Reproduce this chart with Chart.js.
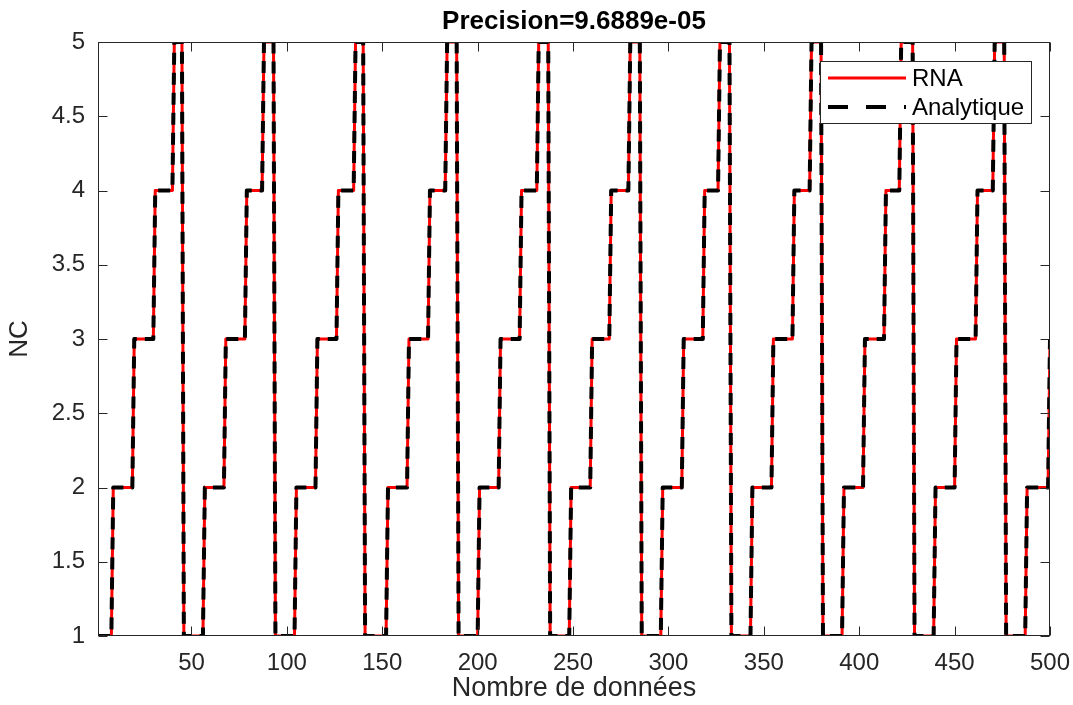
<!DOCTYPE html>
<html>
<head>
<meta charset="utf-8">
<script src="https://cdn.jsdelivr.net/npm/chart.js@4.4.1/dist/chart.umd.min.js"></script>
<style>
  html, body { margin: 0; padding: 0; background: #fff; }
  #wrap { width: 1073px; height: 705px; }
</style>
</head>
<body>
<div id="wrap"><canvas id="myChart"></canvas></div>
<script>
// last sample before each step, and the level reached right after it
var changeAt = [8, 19, 30, 40, 45, 56, 67, 78, 87, 93,
                104, 115, 126, 135, 140, 152, 163, 174, 183, 189,
                200, 211, 222, 231, 237, 248, 259, 269, 279, 285,
                296, 307, 318, 326, 332, 343, 354, 365, 374, 380,
                391, 402, 413, 421, 428, 439, 450, 461, 470, 476,
                487, 499];
var levelAfter = [2, 3, 4, 5, 1, 2, 3, 4, 5, 1,
                  2, 3, 4, 5, 1, 2, 3, 4, 5, 1,
                  2, 3, 4, 5, 1, 2, 3, 4, 5, 1,
                  2, 3, 4, 5, 1, 2, 3, 4, 5, 1,
                  2, 3, 4, 5, 1, 2, 3, 4, 5, 1,
                  2, 3];
var startLevel = 1;
var xFirst = 1, xLast = 500;
var xTicks = [50, 100, 150, 200, 250, 300, 350, 400, 450, 500];
var yTicks = [1, 1.5, 2, 2.5, 3, 3.5, 4, 4.5, 5];

function stepPoints() {
    var pts = [{x: xFirst, y: startLevel}];
    var cur = startLevel;
    for (var i = 0; i < changeAt.length; i++) {
        pts.push({x: changeAt[i], y: cur});
        cur = levelAfter[i];
        pts.push({x: changeAt[i] + 1, y: cur});
    }
    pts.push({x: xLast, y: cur});
    return pts;
}

var axisColor = '#262626';
Chart.defaults.font.family = "'Liberation Sans', Arial, Helvetica, sans-serif";

var matlabBox = {
    id: 'matlabBox',
    afterDatasetsDraw: function (chart) {
        var c = chart.ctx, a = chart.chartArea;
        var xs = chart.scales.x, ys = chart.scales.y;
        var L = Math.round(a.left) + 0.5, R = Math.round(a.right) - 0.5;
        var T = Math.round(a.top) + 0.5, B = Math.round(a.bottom) - 0.5;
        c.save();
        c.strokeStyle = axisColor;
        c.lineWidth = 1;
        c.strokeRect(L, T, R - L, B - T);
        c.beginPath();
        xTicks.forEach(function (v) {
            var px = Math.round(xs.getPixelForValue(v)) + 0.5;
            c.moveTo(px, B); c.lineTo(px, B - 9);
            c.moveTo(px, T); c.lineTo(px, T + 9);
        });
        yTicks.forEach(function (v) {
            var py = Math.round(ys.getPixelForValue(v)) + 0.5;
            c.moveTo(L, py); c.lineTo(L + 9, py);
            c.moveTo(R, py); c.lineTo(R - 9, py);
        });
        c.stroke();

        // title
        c.fillStyle = '#000';
        c.font = "bold 26px 'Liberation Sans', Arial, sans-serif";
        c.textAlign = 'center';
        c.textBaseline = 'middle';
        c.fillText('Precision=9.6889e-05', (a.left + a.right) / 2, 22);

        // legend
        var lx = 820, ly = 61, lw = 211, lh = 62;
        c.fillStyle = '#fff';
        c.fillRect(lx, ly, lw, lh);
        c.strokeStyle = axisColor;
        c.lineWidth = 1;
        c.strokeRect(lx + 0.5, ly + 0.5, lw, lh);
        var ds = chart.data.datasets;
        c.lineWidth = ds[0].borderWidth;
        c.strokeStyle = ds[0].borderColor;
        c.beginPath(); c.moveTo(828, 78); c.lineTo(906, 78); c.stroke();
        c.lineWidth = ds[1].borderWidth;
        c.strokeStyle = ds[1].borderColor;
        c.setLineDash([20, 18]);
        c.beginPath(); c.moveTo(828, 107); c.lineTo(906, 107); c.stroke();
        c.setLineDash([]);
        c.fillStyle = '#000';
        c.font = "24px 'Liberation Sans', Arial, sans-serif";
        c.textAlign = 'left';
        c.fillText(ds[0].label, 912, 79);
        c.fillText(ds[1].label, 912, 108);
        c.restore();
    }
};

var ctx = document.getElementById("myChart");
var myChart = new Chart(ctx, {
    type: 'line',
    data: {
        datasets: [
            {
                label: 'RNA',
                data: stepPoints(),
                borderColor: '#ff0000',
                borderWidth: 3,
                borderJoinStyle: 'round',
                pointRadius: 0,
                tension: 0,
                fill: false,
                order: 2
            },
            {
                label: 'Analytique',
                data: stepPoints(),
                borderColor: '#000000',
                borderWidth: 4,
                borderDash: [12, 8],
                borderJoinStyle: 'round',
                pointRadius: 0,
                tension: 0,
                fill: false,
                order: 1
            }
        ]
    },
    options: {
        responsive: true,
        maintainAspectRatio: false,
        animation: false,
        devicePixelRatio: 1,
        layout: { padding: { top: 42, right: 23, left: 0, bottom: 0 } },
        plugins: {
            legend: { display: false },
            title: { display: false },
            tooltip: { enabled: false }
        },
        scales: {
            x: {
                type: 'linear',
                min: xFirst,
                max: xLast,
                grid: { display: false, drawTicks: false },
                border: { display: false },
                ticks: { color: axisColor, font: { size: 24 }, padding: 13, maxRotation: 0, autoSkip: false },
                title: { display: true, text: 'Nombre de données', color: axisColor, font: { size: 27 }, padding: { top: 0, bottom: 0 } },
                afterBuildTicks: function (s) { s.ticks = xTicks.map(function (v) { return {value: v}; }); },
                afterFit: function (s) { s.height = 69; s.paddingLeft = 0; s.paddingRight = 0; }
            },
            y: {
                min: 1,
                max: 5,
                grid: { display: false, drawTicks: false },
                border: { display: false },
                ticks: { color: axisColor, font: { size: 24 }, padding: 13,
                         callback: function (v) { return String(v); } },
                title: { display: true, text: 'NC', color: axisColor, font: { size: 26 }, padding: { top: 4, bottom: 0 } },
                afterBuildTicks: function (s) { s.ticks = yTicks.map(function (v) { return {value: v}; }); },
                afterFit: function (s) { s.width = 98; s.paddingTop = 0; s.paddingBottom = 0; }
            }
        }
    },
    plugins: [matlabBox]
});
</script>
</body>
</html>
